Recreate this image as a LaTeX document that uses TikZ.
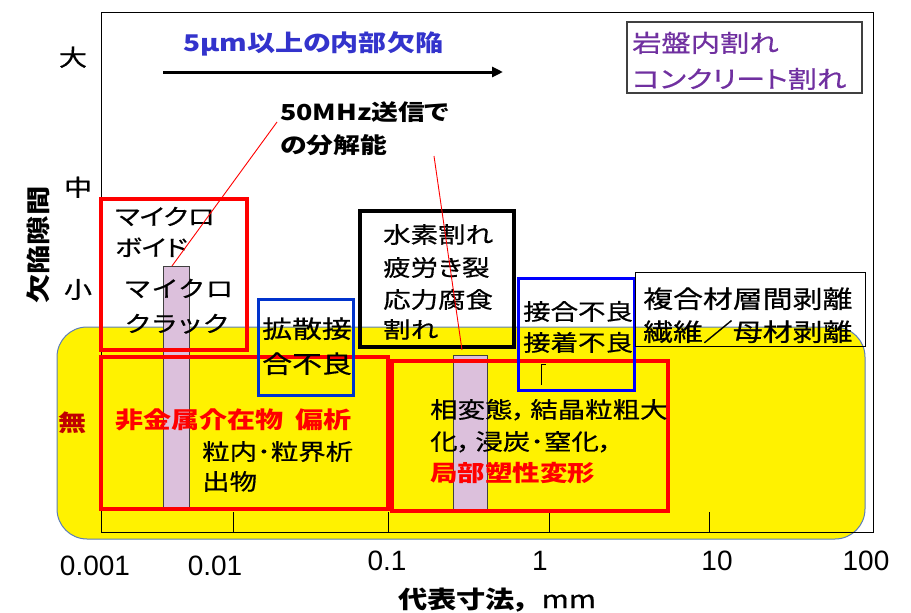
\documentclass[tikz,border=0pt]{standalone}
\usepackage{fontspec}
\setmainfont{Noto Sans CJK JP}[FakeStretch=1.22, RawFeature={+palt}, UprightFeatures={FakeBold=0.6}]
\newfontfamily\arialf{Liberation Sans}
\usetikzlibrary{arrows.meta}
\definecolor{titleblue}{HTML}{3333CC}
\definecolor{boxblueA}{HTML}{0033CC}
\definecolor{boxblueB}{HTML}{0000FF}
\definecolor{purpletxt}{HTML}{7030A0}
\definecolor{barfill}{HTML}{DCC0DC}
\definecolor{darkgr}{HTML}{404040}
\definecolor{yborder}{HTML}{5B7DB8}
\definecolor{darkred}{HTML}{C00000}
\begin{document}
\begin{tikzpicture}[x=1pt,y=-1pt,
  boxnode/.style={anchor=north west, inner sep=0pt, outer sep=0pt},
  redbox/.style={boxnode, draw=red, line width=4pt},
  blackbox/.style={boxnode, draw=black, line width=3.5pt},
  bluebox/.style={boxnode, line width=3pt},
  bar/.style={boxnode, fill=barfill, draw=darkgr, line width=0.8pt},
  ln/.style={inner sep=0pt, anchor=base west, font=\fontsize{22.5}{27}\selectfont},
  lnb/.style={ln, font=\fontsize{24.5}{29}\selectfont},
  ylab/.style={inner sep=0pt, anchor=base, font=\fontsize{23}{27}\selectfont},
  xlab/.style={inner sep=0pt, anchor=base, font=\arialf\fontsize{28}{32}\selectfont},
  pointer/.style={draw=red, line width=0.9pt}
]
\useasboundingbox[fill=white] (0,0) rectangle (911,613);

% plot frame
\node[boxnode, draw=black, line width=1pt, minimum width=772pt, minimum height=520pt] (frame) at (101,12) {};

% yellow region
\node[boxnode, fill=yellow, draw=yborder, line width=1pt, rounded corners=30pt,
      minimum width=808pt, minimum height=212pt] (yel) at (57,327) {};

% axes redrawn over yellow
\draw[line width=1pt] (frame.north west) -- (frame.south west) -- (frame.south east);
\foreach \tx in {233,388,549,709} \draw[line width=1pt] (\tx,532) -- (\tx,512);

% purple bars
\node[bar, minimum width=26pt, minimum height=243pt] (bar1) at (163,266) {};
\node[bar, minimum width=34pt, minimum height=154pt] (bar2) at (453,355) {};

% boxes
\node[redbox, minimum width=146pt, minimum height=151pt] (rb1) at (101,199) {};
\node[redbox, minimum width=287pt, minimum height=152pt] (rb2) at (101,357) {};
\node[redbox, minimum width=276pt, minimum height=150pt] (rb3) at (392,361) {};
\node[blackbox, minimum width=154pt, minimum height=136pt] (kb) at (360,211) {};
\node[bluebox, draw=boxblueA, minimum width=95pt, minimum height=96pt] (bb1) at (258,299) {};
\node[bluebox, draw=boxblueB, minimum width=116pt, minimum height=112pt] (bb2) at (518,278) {};
\node[boxnode, draw=black, line width=1pt, minimum width=230pt, minimum height=74pt] (cb) at (635,272) {};
\node[boxnode, draw=darkgr, line width=1.5pt, minimum width=235pt, minimum height=71pt] (pb) at (627,22) {};

% title and arrow
\node[inner sep=0pt, anchor=base west, text=titleblue, font=\bfseries\fontsize{23}{27}\selectfont] (title) at (183,51) {5μm以上の内部欠陥};
\coordinate (arrS) at (163,72);
\coordinate (arrE) at (503,72);
\draw[line width=3pt, -{Triangle[length=11pt,width=10pt]}] (arrS) -- (arrE);

% resolution label
\node[ln, font=\bfseries\fontsize{22}{27}\selectfont] (res1) at (280,120) {50MHz送信で};
\node[ln, font=\bfseries\fontsize{22}{27}\selectfont] (res2) at (280,153) {の分解能};

% top right
\node[ln, text=purpletxt, font=\fontsize{24}{29}\selectfont] (pt1) at (632,52) {岩盤内割れ};
\node[ln, text=purpletxt, font=\fontsize{24}{29}\selectfont] (pt2) at (632,88) {コンクリート割れ};

% y axis labels
\node[ylab] (yL) at (73,66) {大};
\node[ylab] (yM) at (78,196) {中};
\node[ylab] (yS) at (78,298) {小};
\node[ylab, text=darkred, font=\bfseries\fontsize{23}{27}\selectfont] (yN) at (73,431) {無};
\node[inner sep=0pt, rotate=90, font=\bfseries\fontsize{24}{28}\selectfont] (ytitle) at (38,245) {欠陥隙間};

% x axis labels
\node[xlab] (x1) at (95,575) {0.001};
\node[xlab] (x2) at (215,575) {0.01};
\node[xlab] (x3) at (387,570) {0.1};
\node[xlab] (x4) at (540,570) {1};
\node[xlab] (x5) at (717,570) {10};
\node[xlab] (x6) at (866,570) {100};
\node[inner sep=0pt, anchor=base, font=\fontsize{24}{28}\selectfont] (xtitle) at (497,608) {\bfseries 代表寸法，\hspace{12pt}\mdseries mm};

% box texts
\node[ln] (t1a) at (115,225) {マイクロ};
\node[ln] (t1b) at (115,256) {ボイド};
\node[ln, font=\addfontfeature{LetterSpace=12}\fontsize{22.5}{27}\selectfont] (t2a) at (125,297) {マイクロ};
\node[ln, font=\addfontfeature{LetterSpace=12}\fontsize{22.5}{27}\selectfont] (t2b) at (125,332) {クラック};
\node[lnb] (t3a) at (262,338) {拡散接};
\node[lnb] (t3b) at (262,373) {合不良};
\node[ln] (t4a) at (383,243) {水素割れ};
\node[ln] (t4b) at (383,276) {疲労き裂};
\node[ln] (t4c) at (383,308) {応力腐食};
\node[ln] (t4d) at (383,338) {割れ};
\node[ln] (t5a) at (523,320) {接合不良};
\node[ln] (t5b) at (523,351) {接着不良};
\node[lnb] (t6a) at (643,308) {複合材層間剥離};
\node[lnb] (t6b) at (643,341) {繊維／母材剥離};
\node[ln, text=red, font=\bfseries\fontsize{23}{27}\selectfont] (t7) at (115,428) {非金属介在物\hspace{12pt}偏析};
\node[ln] (t8a) at (202,460) {粒内･粒界析};
\node[ln] (t8b) at (202,490) {出物};
\node[ln] (t9a) at (430,418) {相変態，\hspace{4pt}結晶粒粗大};
\node[ln] (t9b) at (430,450) {化，\hspace{4pt}浸炭･窒化，};
\node[ln, text=red, font=\bfseries\fontsize{22.5}{27}\selectfont] (t9c) at (430,481) {局部塑性変形};

% small mark
\draw[line width=0.8pt] (541,385) -- (541,364) -- (546,364);

% pointer lines
\coordinate (p1s) at (277,122);
\coordinate (p1e) at (172,266);
\coordinate (p2s) at (434,156);
\coordinate (p2e) at (462,350);
\draw[pointer] (p1s) -- (p1e);
\draw[pointer] (p2s) -- (p2e);
\end{tikzpicture}
\end{document}
